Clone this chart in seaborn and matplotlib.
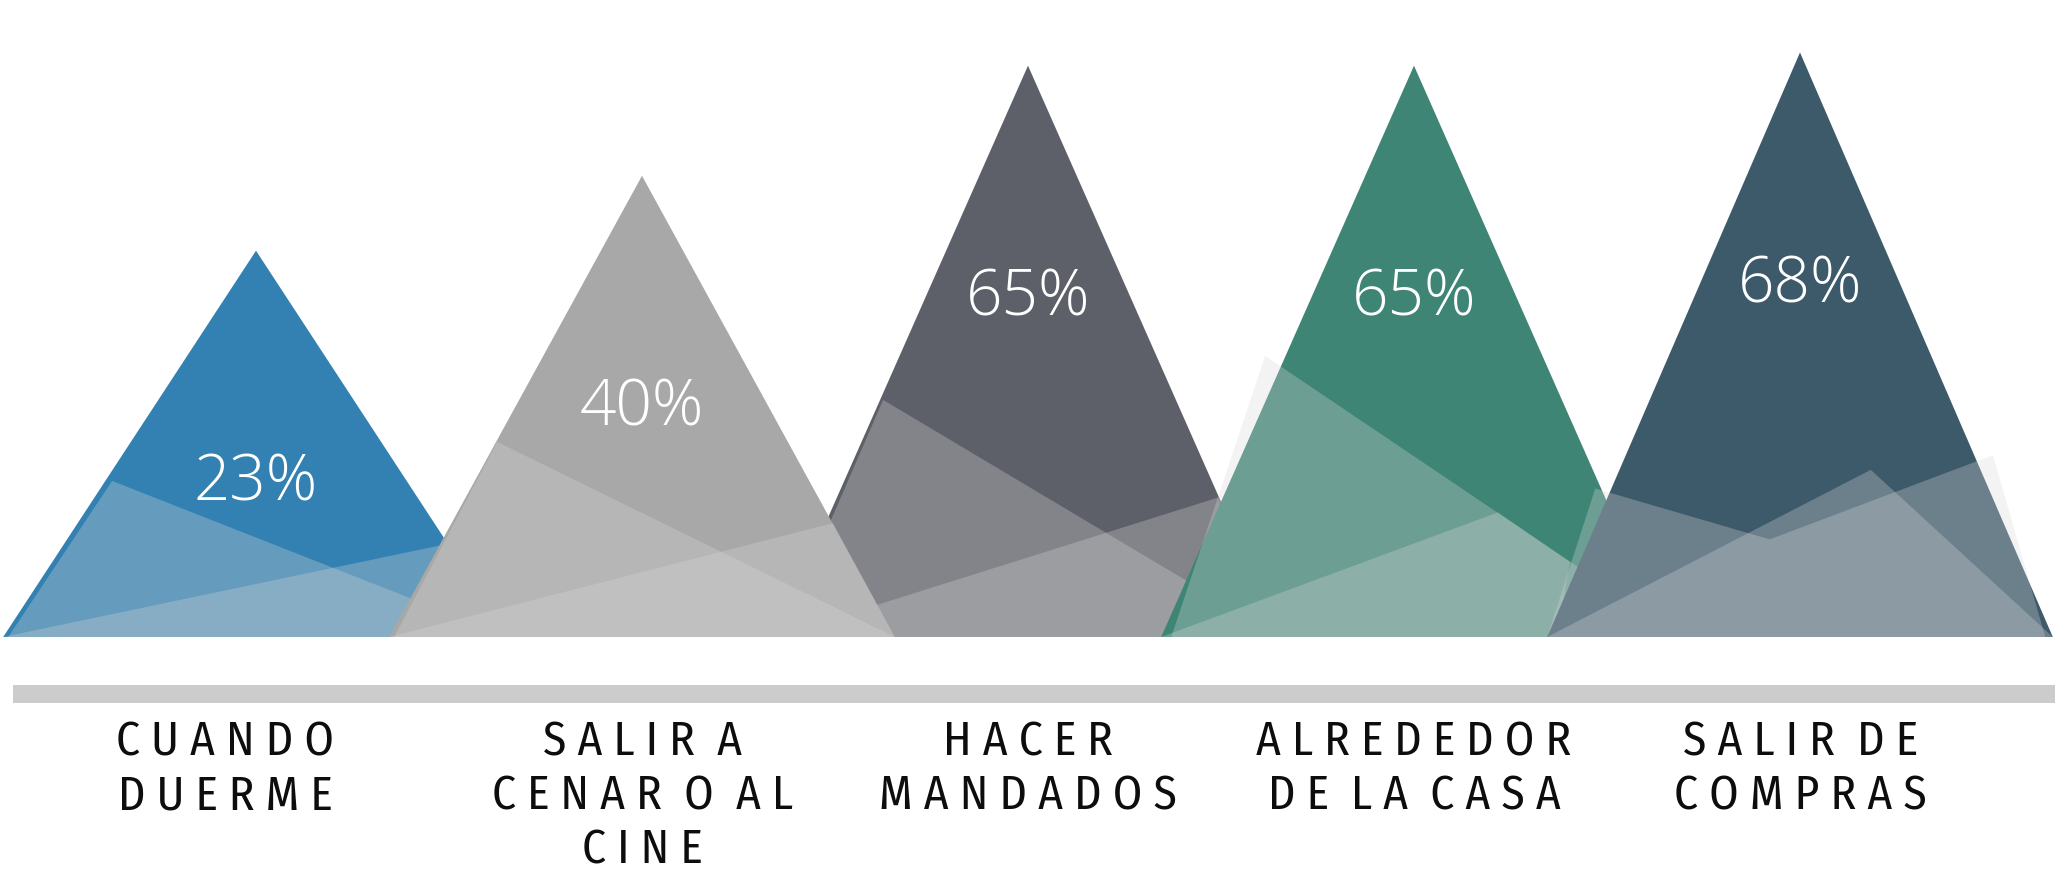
import numpy as np
import matplotlib
matplotlib.use("Agg")
import matplotlib.pyplot as plt
import matplotlib.transforms as mtransforms
from matplotlib import font_manager
from matplotlib.patches import Polygon, Rectangle
import seaborn as sns

# ---- data -------------------------------------------------------------
categories = ["CUANDO\nDUERME", "SALIR A\nCENAR O AL\nCINE", "HACER\nMANDADOS",
              "ALREDEDOR\nDE LA CASA", "SALIR DE\nCOMPRAS"]
values = [23, 40, 65, 65, 68]
value_labels = ["23%", "40%", "65%", "65%", "68%"]
peak_colors = ["#3381B2", "#A8A8A8", "#5D6068", "#3E8576", "#3D5A6B"]

# ---- style ------------------------------------------------------------
sns.set_theme(style="white")
available = {f.name for f in font_manager.fontManager.ttflist}


def pick(*names):
    for n in names:
        if n in available:
            return n
    return "DejaVu Sans"


label_font = pick("Fira Sans Condensed", "PT Sans Narrow", "Roboto Condensed", "Open Sans")
pct_font = pick("Open Sans", "Lato", "Noto Sans")
plt.rcParams["font.family"] = [label_font, "DejaVu Sans"]

FLOOR = -64.7        # every peak rises from this level of the value scale
HALF = 0.655         # half of a peak's base, in category units
LABEL_DROP = 53      # percentage label sits this far below the summit
HAZE_COLOR = "#D9D9D9"
HAZE_ALPHA = 0.3
FIG_W, FIG_H = 2055, 875

# translucent facets laid over each peak:
# (offset from the peak centre in half-bases, fraction of the peak height)
haze = [
    [[(-0.98, 0), (-0.569, 0.404), (1.0, 0)],
     [(-1.0, 0), (0.75, 0.24), (1.0, 0)]],
    [[(-0.98, 0), (-0.573, 0.423), (1.0, 0)],
     [(-1.0, 0), (0.755, 0.247), (1.0, 0)]],
    [[(-0.98, 0), (-0.573, 0.415), (1.0, 0)],
     [(-1.0, 0), (0.751, 0.244), (1.0, 0)]],
    [[(-0.96, 0), (-0.589, 0.492), (1.06, 0)],
     [(-1.0, 0), (0.332, 0.218), (0.617, 0.131), (0.565, 0)]],
    [[(-1.0, 0), (-0.81, 0.254), (-0.12, 0.167), (0.763, 0.311), (0.97, 0)],
     [(-1.0, 0), (0.28, 0.286), (1.0, 0)]],
]
draw_order = [0, 2, 1, 3, 4]
label_nudge = [-0.08, 0, 0, 0, 0]   # horizontal nudge of the category captions


def spaced(line):
    return "  ".join(" ".join(word) for word in line.split(" "))


# ---- figure -----------------------------------------------------------
fig = plt.figure(figsize=(FIG_W / 100, FIG_H / 100), dpi=100)
ax = fig.add_axes([0, 0, 1, 1])
x = np.arange(len(values))
unit_px = 386.0
ax.set_xlim(-256 / unit_px, (FIG_W - 256) / unit_px)
px_per_value = 4.405
y_bottom = FLOOR - 238 / px_per_value
ax.set_ylim(y_bottom, y_bottom + FIG_H / px_per_value)
ax.axis("off")

z = 1
for i in draw_order:
    cx, top = x[i], values[i]
    height = top - FLOOR
    ax.fill([cx - HALF, cx, cx + HALF], [FLOOR, top, FLOOR],
            color=peak_colors[i], lw=0, zorder=z)
    z += 1
    for facet in haze[i]:
        pts = [(cx + u * HALF, FLOOR + v * height) for u, v in facet]
        ax.add_patch(Polygon(pts, closed=True, facecolor=HAZE_COLOR,
                             alpha=HAZE_ALPHA, lw=0, zorder=z))
        z += 1

for i in range(len(values)):
    ax.text(x[i], values[i] - LABEL_DROP, value_labels[i], ha="center",
            va="center", color="white", fontsize=46,
            family=[pct_font, "DejaVu Sans"], fontweight=300, zorder=50)

# ground strip under the peaks
ax.add_patch(Rectangle((13 / FIG_W, 172 / FIG_H), 1.0, 18 / FIG_H,
                       transform=ax.transAxes, facecolor="#CCCCCC", lw=0))

# category captions, one baseline per line
blend = mtransforms.blended_transform_factory(ax.transData, ax.transAxes)
first_baseline, line_step = 756, 54
for i, cat in enumerate(categories):
    for j, line in enumerate(cat.split("\n")):
        ax.text(x[i] + label_nudge[i], 1 - (first_baseline + j * line_step) / FIG_H,
                spaced(line), transform=blend, ha="center", va="baseline",
                fontsize=34, color="#0D0D0D",
                family=[label_font, "DejaVu Sans"], fontstretch="condensed")

fig.savefig("out.png", dpi=100, facecolor="white")
